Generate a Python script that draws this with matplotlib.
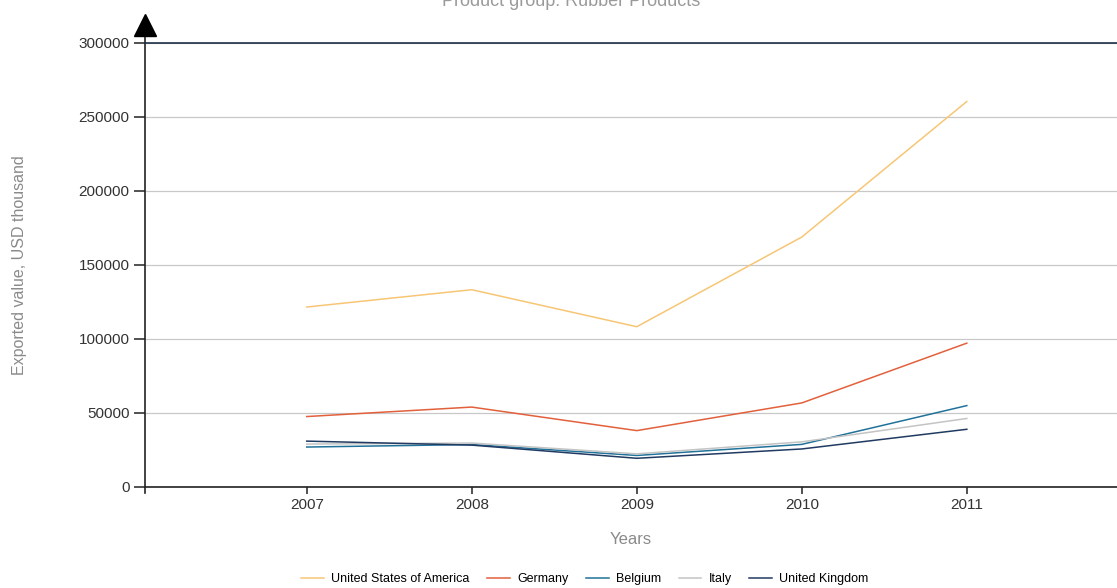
import matplotlib
matplotlib.use("Agg")
import matplotlib.pyplot as plt

plt.rcParams["font.family"] = ["Liberation Sans", "DejaVu Sans"]

years = [2007, 2008, 2009, 2010, 2011]
usa = [121600, 133300, 108300, 168900, 260500]
germany = [47600, 54000, 38100, 56800, 97200]
belgium = [27000, 28700, 21300, 28800, 55000]
italy = [29000, 29700, 22400, 30500, 46300]
uk = [31000, 28300, 19400, 25700, 39000]

series = [
    ("United States of America", usa, "#F7C675"),
    ("Germany", germany, "#E2603C"),
    ("Belgium", belgium, "#21729A"),
    ("Italy", italy, "#C4C4C4"),
    ("United Kingdom", uk, "#203A62"),
]
yticks = [0, 50000, 100000, 150000, 200000, 250000, 300000]

fig = plt.figure(figsize=(11.17, 5.88), dpi=100)
ax = fig.add_axes([145 / 1117, 101 / 588, 972 / 1117, 444 / 588])

for name, vals, color in series:
    ax.plot(years, vals, color=color, lw=1.1, label=name)

ax.set_xlim(2006.02, 2011.91)
ax.set_ylim(0, 300000)
ax.set_xticks(years)
ax.set_yticks(yticks)
ax.set_yticklabels([str(v) for v in yticks])
ax.grid(axis="y", color="#c8c8c8", lw=0.9)
ax.set_axisbelow(True)

ax.spines["right"].set_visible(False)
ax.spines["left"].set_visible(False)
ax.spines["top"].set_color("#1c2f45")
ax.spines["top"].set_linewidth(1.2)
ax.spines["bottom"].set_color("#222222")
ax.spines["bottom"].set_linewidth(1.2)

# y axis line with arrow on top
ax.plot([0, 0], [-0.014, 1.03], transform=ax.transAxes, color="#222222",
        lw=1.2, clip_on=False)
ax.plot(0, 1.04, marker="^", markersize=16, color="black",
        transform=ax.transAxes, clip_on=False)

ax.tick_params(axis="y", length=8, width=1.1, color="#222222",
               labelsize=11, labelcolor="#333333", pad=3)
ax.tick_params(axis="x", length=5, width=1.1, color="#222222",
               labelsize=11, labelcolor="#333333", pad=3)

ax.set_xlabel("Years", fontsize=12, color="#8a8a8a", labelpad=14)
fig.text(20 / 1117, 1 - 265 / 588, "Exported value, USD thousand", rotation=90,
         fontsize=11.5, color="#8a8a8a", ha="center", va="center")
fig.text(571 / 1117, 1 - 1 / 588, "Product group: Rubber Products",
         fontsize=13, color="#9a9a9a", ha="center", va="center")

fig.legend(loc="center", bbox_to_anchor=(585 / 1117, 1 - 579 / 588), ncol=5,
           frameon=False, fontsize=9, handlelength=1.8, columnspacing=1.4,
           handletextpad=0.6)

fig.savefig("out.png", dpi=100)
